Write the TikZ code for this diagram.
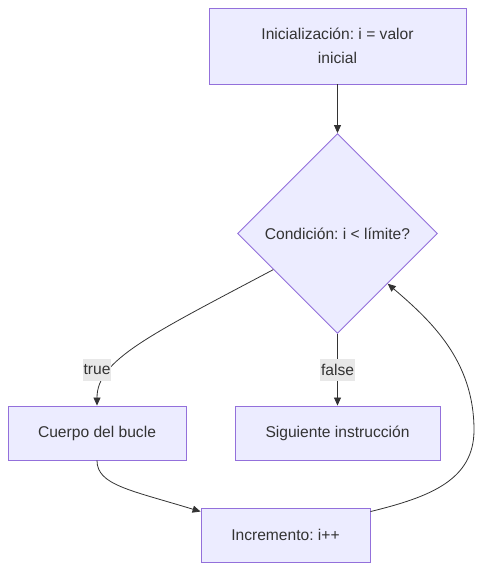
\documentclass[tikz,border=0pt]{standalone}
\usepackage{fontspec}
\setmainfont{Liberation Sans}
\usetikzlibrary{shapes.geometric,arrows.meta,calc}
\definecolor{nodefill}{HTML}{ECECFF}
\definecolor{nodeline}{HTML}{9370DB}
\definecolor{txt}{HTML}{333333}
\definecolor{lblbg}{HTML}{E8E8E8}
\frenchspacing
\tikzset{
  box/.style={draw=nodeline, fill=nodefill, line width=0.9pt, text=txt, inner sep=0pt, align=center, font=\fontsize{15.6}{24}\selectfont},
  dia/.style={diamond, draw=nodeline, fill=nodefill, line width=0.9pt, text=txt, inner sep=0pt, aspect=1, minimum width=200pt, minimum height=200pt, font=\fontsize{15.6}{24}\selectfont},
  link/.style={draw=txt, line width=0.8pt, -{Triangle[length=8pt,width=7pt]}},
  lbl/.style={fill=lblbg, text=txt, inner xsep=1pt, inner ysep=0pt, minimum height=22pt, font=\fontsize{15.6}{20}\selectfont}
}
\begin{document}
\frenchspacing
\begin{tikzpicture}[x=1pt,y=-1pt]
\useasboundingbox (0,0) rectangle (490,579);
\node[box, minimum width=257pt, minimum height=76pt] (init) at (337.5,46) {Inicialización: i = valor\\inicial};
\node[dia] (cond) at (337.5,233.5) {Condición: i < límite?};
\node[box, minimum width=178pt, minimum height=54pt] (body) at (97,433) {Cuerpo del bucle};
\node[box, minimum width=205pt, minimum height=54pt] (next) at (337.5,433) {Siguiente instrucción};
\node[box, minimum width=169pt, minimum height=54pt] (inc) at (285.5,535) {Incremento: i++};
\coordinate (ctrue) at ($(cond.west)!0.36!(cond.south)$);
\coordinate (cback) at ($(cond.east)!0.5!(cond.south)$);
\coordinate (incin) at ($(inc.north west)+(0,4)$);
\coordinate (incout) at ($(inc.north east)+(0,4)$);
\draw[link] (init.south) -- (cond.north);
\draw[link] (ctrue) .. controls (150,335) and (97,360) .. (body.north);
\draw[link] (cond.south) -- (next.north);
\draw[link] (body.south) .. controls (97,485) and (130,490) .. (incin);
\draw[link] (incout) .. controls (430,497) and (474,480) .. (474,430) .. controls (474,360) and (430,320) .. (cback);
\node[lbl] (ltrue) at (97,370) {true};
\node[lbl] (lfalse) at (337.5,370) {false};
\end{tikzpicture}
\end{document}
